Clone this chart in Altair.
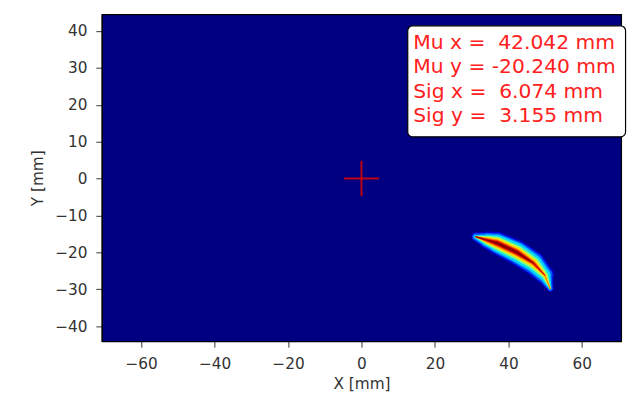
import altair as alt
import pandas as pd

# ---- data ----
x_domain = [-70.7, 70.7]
y_domain = [-44.1, 44.5]
x_ticks = [-60, -40, -20, 0, 20, 40, 60]
y_ticks = [-40, -30, -20, -10, 0, 10, 20, 30, 40]

# centre line of the crescent-shaped beam spot (mm)
arc_x = [31.1, 34.2, 36.9, 42.3, 46.8, 49.9, 51.4]
arc_y = [-15.8, -16.7, -17.5, -20.0, -22.9, -26.2, -29.8]

# intensity bands (jet colours), outer to inner, with band width at each centre-line point
layer_colors = ["#0000d0", "#0058ff", "#00d8ff", "#80ff80", "#ffe000", "#ff7000", "#e00000", "#880000"]
layer_widths = [
    [9, 18, 23, 25, 24, 19, 7],
    [7, 15, 20, 22, 21, 16, 5],
    [4, 12, 17, 19, 17, 12, 2.5],
    [1.5, 9, 13, 14, 12, 7, 0],
    [0, 6.5, 10, 10.5, 8, 3.5, 0],
    [0, 4.5, 7, 7, 4.5, 1, 0],
    [0, 2.5, 4.5, 4.5, 2, 0, 0],
    [0, 1, 2.5, 2.5, 0, 0, 0],
]

cross_x = [-4.8, 4.8]
cross_y = [-4.8, 4.8]

stats_lines = ["Mu x =\u00a0 42.042 mm", "Mu y = -20.240 mm", "Sig x =\u00a0 6.074 mm", "Sig y =\u00a0 3.155 mm"]
stats_y = [35.2, 28.5, 21.8, 15.2]
stats_x = 14.1
box_x = [12.6, 71.9]
box_y = [11.3, 41.4]

FONT = "DejaVu Sans"

xs = alt.Scale(domain=x_domain, nice=False, zero=False)
ys = alt.Scale(domain=y_domain, nice=False, zero=False)
x_axis = alt.Axis(values=x_ticks, title="X [mm]", grid=False)
y_axis = alt.Axis(values=y_ticks, title="Y [mm]", grid=False)


def X(f):
    return alt.X(f, type="quantitative", scale=xs, axis=x_axis)


def Y(f):
    return alt.Y(f, type="quantitative", scale=ys, axis=y_axis)


layers = []

# crescent bands (only the part of the centre line where a band is present)
n = len(arc_x)
for color, widths in zip(layer_colors, layer_widths):
    keep = [i for i in range(n)
            if widths[i] > 0 or (i > 0 and widths[i - 1] > 0) or (i < n - 1 and widths[i + 1] > 0)]
    df = pd.DataFrame({"x": [arc_x[i] for i in keep], "y": [arc_y[i] for i in keep],
                       "w": [widths[i] for i in keep], "i": keep})
    layers.append(
        alt.Chart(df).mark_trail(fill=color, color=color, strokeOpacity=0, strokeWidth=0).encode(
            x=X("x"), y=Y("y"),
            size=alt.Size("w:Q", scale=None, legend=None),
            order=alt.Order("i:Q"),
        )
    )

# red cross at the origin
hdf = pd.DataFrame({"x": [cross_x[0]], "x2": [cross_x[1]], "y": [0.0]})
vdf = pd.DataFrame({"y": [cross_y[0]], "y2": [cross_y[1]], "x": [0.0]})
layers.append(alt.Chart(hdf).mark_rule(color="#e00000", strokeWidth=2, opacity=0.85).encode(
    x=X("x"), x2="x2", y=Y("y")))
layers.append(alt.Chart(vdf).mark_rule(color="#e00000", strokeWidth=2, opacity=0.85).encode(
    x=X("x"), y=Y("y"), y2="y2"))

# statistics box
bdf = pd.DataFrame({"x": [box_x[0]], "x2": [box_x[1]], "y": [box_y[0]], "y2": [box_y[1]]})
layers.append(alt.Chart(bdf).mark_rect(fill="white", stroke="black", strokeWidth=1.2, cornerRadius=5).encode(
    x=X("x"), x2="x2", y=Y("y"), y2="y2"))

tdf = pd.DataFrame({"t": stats_lines, "y": stats_y, "x": [stats_x] * len(stats_lines)})
layers.append(alt.Chart(tdf).mark_text(align="left", baseline="alphabetic", font=FONT, fontSize=20.5,
                                        color="#ff2020").encode(
    x=X("x"), y=Y("y"), text="t:N"))

chart = alt.layer(*layers).properties(
    width=526, height=331,
    autosize=alt.AutoSizeParams(type="none"),
    padding={"left": 95, "top": 4, "right": 12, "bottom": 50},
).configure_view(
    fill="#000080", stroke="black", strokeWidth=1.2
).configure_axis(
    labelFont=FONT, titleFont=FONT, labelFontSize=15.5, titleFontSize=15.5,
    titleFontWeight="normal", labelColor="#333333", titleColor="#333333",
    tickColor="#333333", tickSize=6, domainColor="black", domainWidth=1.2,
).configure_axisX(
    labelPadding=9.5, titlePadding=5,
).configure_axisY(
    labelPadding=9, titlePadding=9,
)

chart.save("out.html", embed_options={"renderer": "svg", "actions": False})
